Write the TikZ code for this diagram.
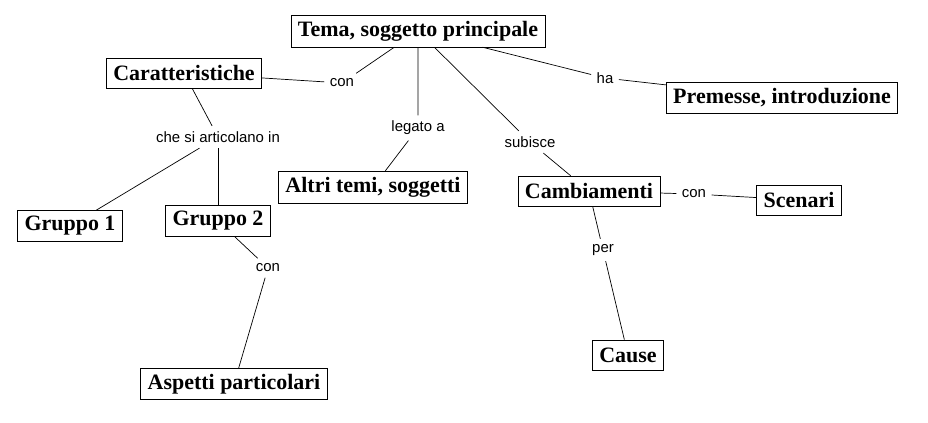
\documentclass[tikz,border=0pt]{standalone}
\usepackage{fontspec}
\setmainfont{Liberation Serif}
\setsansfont{Liberation Sans}
\begin{document}
\begin{tikzpicture}[x=0.02cm, y=-0.02cm,
    concept/.style={rectangle, draw, thin, font=\fontsize{12.5}{14}\selectfont\bfseries, inner xsep=4pt, minimum height=17pt},
    link/.style={font=\sffamily\fontsize{8.5}{10}\selectfont, inner sep=3pt}]
    \useasboundingbox (0,0) rectangle (928,422);
    % --- concetti ---
    \node[concept] (tema) at (418,31) {Tema, soggetto principale};
    \node[concept] (caratt) at (184,73) {Caratteristiche};
    \node[concept] (premesse) at (782,98) {Premesse, introduzione};
    \node[concept] (altri) at (373,187) {Altri temi, soggetti};
    \node[concept] (cambi) at (589,191) {Cambiamenti};
    \node[concept] (scenari) at (799,200) {Scenari};
    \node[concept] (gruppo1) at (70,226) {Gruppo 1};
    \node[concept] (gruppo2) at (218,221) {Gruppo 2};
    \node[concept] (cause) at (628,355) {Cause};
    \node[concept] (aspetti) at (234,384) {Aspetti particolari};
    % --- etichette ---
    \node[link] (con1) at (342,83) {con};
    \node[link] (ha) at (605,78) {ha};
    \node[link] (legato) at (418,128) {legato a};
    \node[link] (subisce) at (530,142) {subisce};
    \node[link] (articola) at (218,137) {che si articolano in};
    \node[link] (con2) at (694,194) {con};
    \node[link] (con3) at (268,268) {con};
    \node[link] (per) at (603,250) {per};
    % --- collegamenti ---
    \draw (caratt) -- (con1) -- (tema);
    \draw (tema) -- (ha) -- (premesse);
    \draw (tema) -- (legato) -- (altri);
    \draw (tema) -- (subisce) -- (cambi);
    \draw (caratt) -- (articola);
    \draw (articola) -- (gruppo1);
    \draw (articola) -- (gruppo2);
    \draw (gruppo2) -- (con3) -- (aspetti);
    \draw (cambi) -- (con2) -- (scenari);
    \draw (cambi) -- (per) -- (cause);
\end{tikzpicture}
\end{document}
